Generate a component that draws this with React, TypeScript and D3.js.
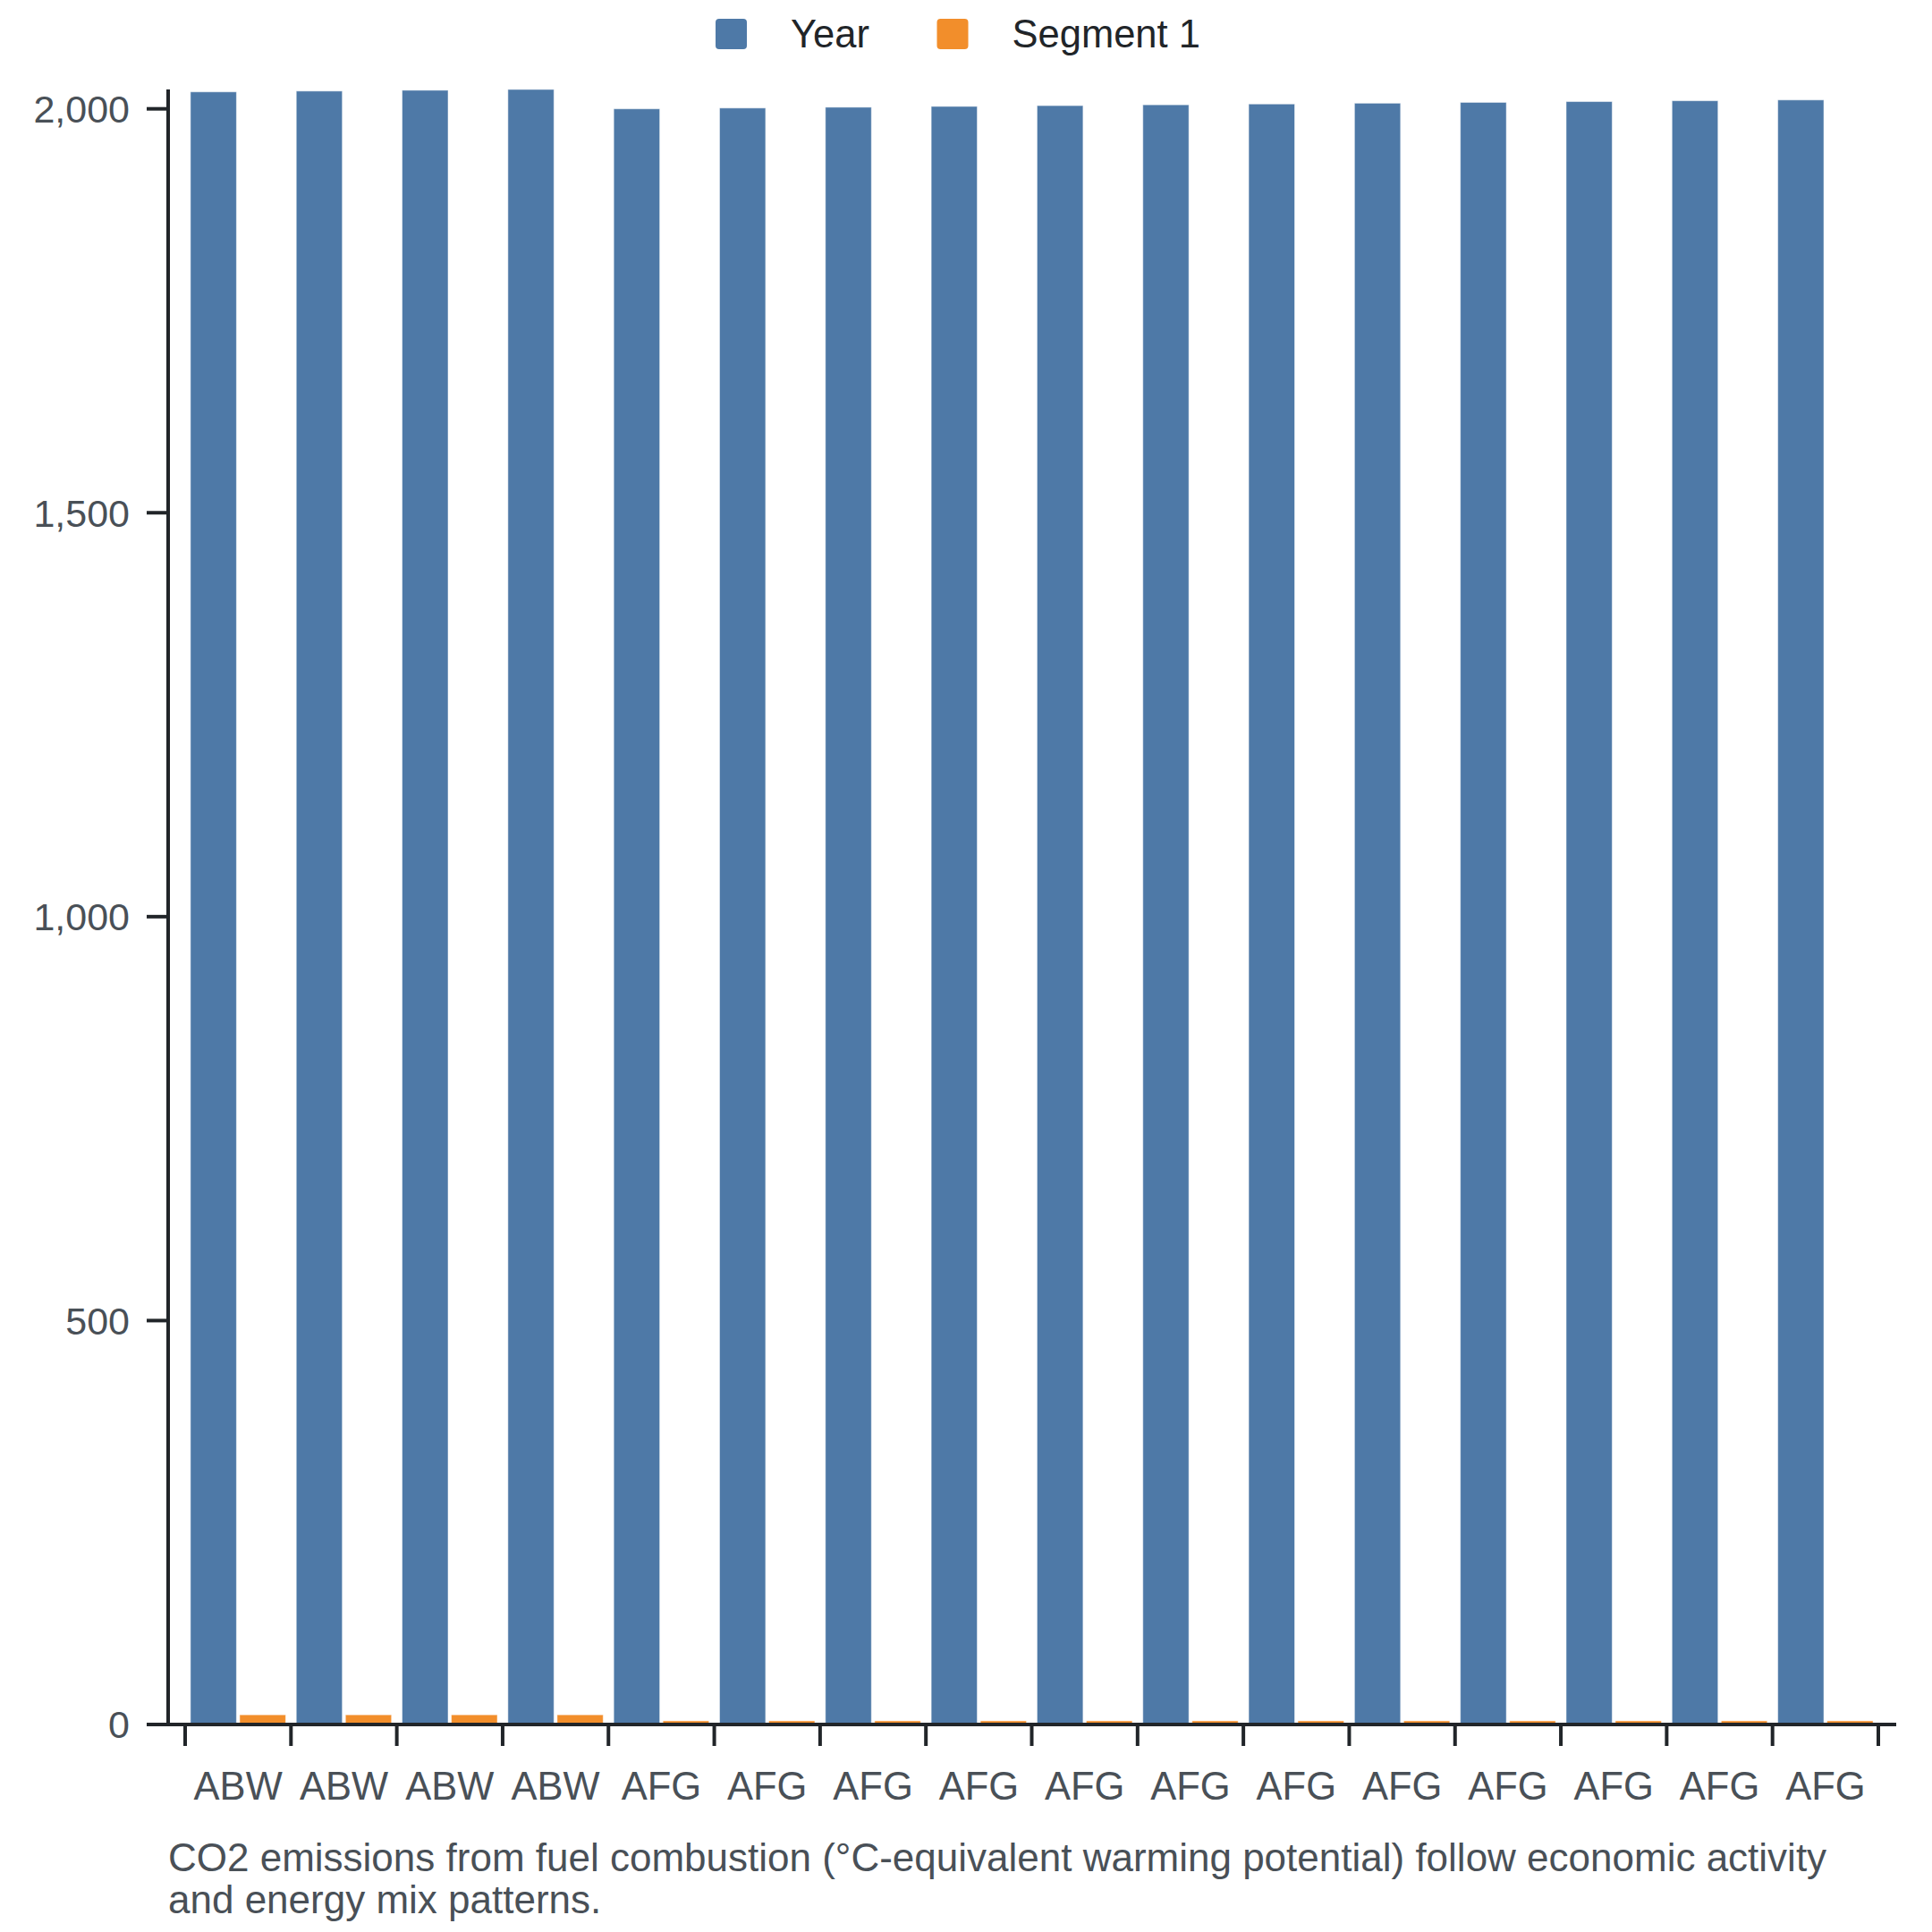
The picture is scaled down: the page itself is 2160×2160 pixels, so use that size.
import React, { useRef, useEffect } from "react";
import * as d3 from "d3";

const countries = ["ABW", "ABW", "ABW", "ABW", "AFG", "AFG", "AFG", "AFG", "AFG", "AFG", "AFG", "AFG", "AFG", "AFG", "AFG", "AFG"];
const years = [2021, 2022, 2023, 2024, 2000, 2001, 2002, 2003, 2004, 2005, 2006, 2007, 2008, 2009, 2010, 2011];
const segment1 = [12, 12, 12, 12, 4.5, 4.5, 4.5, 4.5, 4.5, 4.5, 4.5, 4.5, 4.5, 4.5, 4.5, 4.5];
const seriesNames = ["Year", "Segment 1"];
const seriesColors = ["#4e79a7", "#f28e2b"];
const yTicks = [0, 500, 1000, 1500, 2000];
const caption = [
    "CO2 emissions from fuel combustion (°C-equivalent warming potential) follow economic activity",
    "and energy mix patterns.",
];

const App = () => {
    const ref = useRef<SVGSVGElement | null>(null);

    useEffect(() => {
        document.body.style.margin = "0";
        const svg = d3.select(ref.current);
        svg.selectAll("*").remove();

        const font = "'Liberation Sans', Arial, sans-serif";
        const axisColor = "#212529";
        const textColor = "#495057";
        const fontSize = 43;

        const rows = countries.map((c, i) => ({ i, country: c, values: [years[i], segment1[i]] }));

        const x = d3
            .scaleBand<number>()
            .domain(rows.map((d) => d.i))
            .range([207, 2100])
            .paddingInner(0.1)
            .paddingOuter(0.05);
        const xSub = d3
            .scaleBand<number>()
            .domain([0, 1])
            .range([0, x.bandwidth()])
            .paddingInner(0.065);
        const y = d3
            .scaleLinear()
            .domain([0, d3.max(years)!])
            .range([1928, 100]);

        // Bars
        const groups = svg
            .append("g")
            .selectAll("g")
            .data(rows)
            .join("g")
            .attr("transform", (d) => `translate(${x(d.i)},0)`);
        groups
            .selectAll("rect")
            .data((d) => d.values.map((v, k) => ({ v, k })))
            .join("rect")
            .attr("x", (d) => xSub(d.k)!)
            .attr("y", (d) => y(d.v))
            .attr("width", xSub.bandwidth())
            .attr("height", (d) => y(0) - y(d.v))
            .attr("fill", (d) => seriesColors[d.k])
            .attr("stroke", "#fff")
            .attr("stroke-opacity", 0.5)
            .attr("stroke-width", 1);

        // Y axis
        const yAxis = svg.append("g");
        yAxis
            .append("line")
            .attr("x1", 188)
            .attr("x2", 188)
            .attr("y1", y.range()[1])
            .attr("y2", y(0) + 2)
            .attr("stroke", axisColor)
            .attr("stroke-width", 4);
        const yt = yAxis.selectAll("g.tick").data(yTicks).join("g").attr("class", "tick");
        yt.append("line")
            .attr("x1", 164)
            .attr("x2", 188)
            .attr("y1", (d) => y(d))
            .attr("y2", (d) => y(d))
            .attr("stroke", axisColor)
            .attr("stroke-width", 4);
        yt.append("text")
            .attr("x", 145)
            .attr("y", (d) => y(d))
            .attr("dy", "0.36em")
            .attr("text-anchor", "end")
            .attr("font-family", font)
            .attr("font-size", fontSize)
            .attr("fill", textColor)
            .text((d) => d3.format(",")(d));

        // X axis
        const xAxis = svg.append("g");
        const step = x.step();
        const edge0 = x(0)! - (step * x.paddingInner()) / 2;
        xAxis
            .append("line")
            .attr("x1", 186)
            .attr("x2", 2120)
            .attr("y1", y(0))
            .attr("y2", y(0))
            .attr("stroke", axisColor)
            .attr("stroke-width", 4);
        xAxis
            .selectAll("line.tick")
            .data(d3.range(rows.length + 1))
            .join("line")
            .attr("class", "tick")
            .attr("x1", (d) => edge0 + d * step)
            .attr("x2", (d) => edge0 + d * step)
            .attr("y1", y(0))
            .attr("y2", y(0) + 24)
            .attr("stroke", axisColor)
            .attr("stroke-width", 4);
        xAxis
            .selectAll("text")
            .data(rows)
            .join("text")
            .attr("x", (d) => x(d.i)! + x.bandwidth() / 2)
            .attr("y", 2012)
            .attr("text-anchor", "middle")
            .attr("font-family", font)
            .attr("font-size", 43.5)
            .attr("fill", textColor)
            .text((d) => d.country);

        // Legend
        const legendX = [800, 1047.5];
        const legend = svg
            .append("g")
            .selectAll("g")
            .data(seriesNames)
            .join("g")
            .attr("transform", (_, k) => `translate(${legendX[k]},21)`);
        legend
            .append("rect")
            .attr("width", 35)
            .attr("height", 34)
            .attr("rx", 4)
            .attr("fill", (_, k) => seriesColors[k]);
        legend
            .append("text")
            .attr("x", 84)
            .attr("y", 32)
            .attr("font-family", font)
            .attr("font-size", 43.5)
            .attr("fill", "#212529")
            .text((d) => d);

        // Caption
        svg.append("g")
            .selectAll("text")
            .data(caption)
            .join("text")
            .attr("x", 188)
            .attr("y", (_, k) => 2092 + k * 47)
            .attr("font-family", font)
            .attr("font-size", 44)
            .attr("fill", textColor)
            .text((d) => d);
    }, []);

    return <svg ref={ref} width={2160} height={2160} viewBox="0 0 2160 2160" style={{ display: "block" }} />;
};

export default App;
